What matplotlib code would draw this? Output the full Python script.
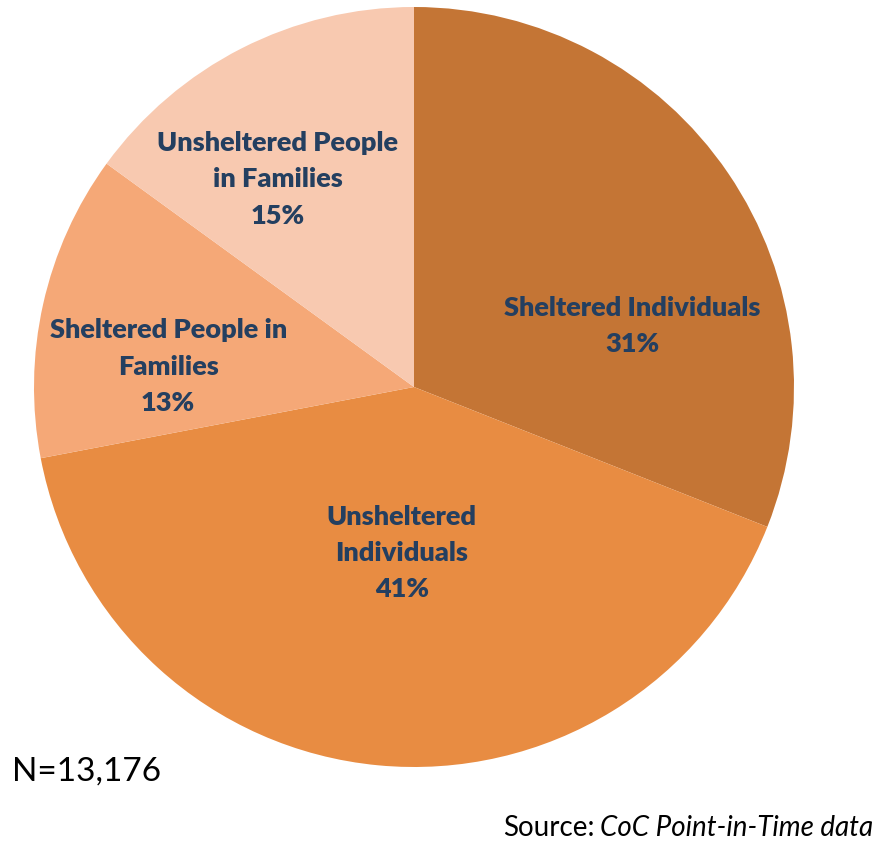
import matplotlib.pyplot as plt

# Homeless population breakdown (share of total)
categories = ["Sheltered Individuals", "Unsheltered Individuals",
              "Sheltered People in Families", "Unsheltered People in Families"]
shares = [31, 41, 13, 15]
label_lines = ["Sheltered Individuals", "Unsheltered\nIndividuals",
               "Sheltered People in\nFamilies", "Unsheltered People\nin Families"]
total_n = "13,176"
source_text = "CoC Point-in-Time data"

colors = ["#C47535", "#E88C42", "#F5A877", "#F8C9B0"]
text_color = "#243F60"

W, H = 877, 842
fig = plt.figure(figsize=(W / 100, H / 100), dpi=100)
plt.rcParams["font.family"] = ["Lato", "DejaVu Sans"]

# pie centre (414, 387) px, radius 380 px
cx, cy, r = 414, 387, 380
ax = fig.add_axes([(cx - r) / W, (H - cy - r) / H, 2 * r / W, 2 * r / H])
ax.pie(shares, colors=colors, startangle=90, counterclock=False,
       radius=1, wedgeprops=dict(linewidth=0))
ax.set_xlim(-1, 1)
ax.set_ylim(-1, 1)
ax.set_aspect("equal")
ax.axis("off")

# label centres in pie coordinates
label_pos = [(0.574, 0.161), (-0.032, -0.437), (-0.647, 0.053), (-0.358, 0.547)]
for txt, pct, (x, y) in zip(label_lines, shares, label_pos):
    ax.text(x, y, f"{txt}\n{pct}%", ha="center", va="center",
            fontsize=19.5, fontweight="heavy", color=text_color,
            linespacing=1.62)

fig.text(12 / W, 1 - 772 / H, f"N={total_n}", ha="left", va="center",
         fontsize=24, color="black")

renderer = fig.canvas.get_renderer()
src = fig.text(873 / W, 1 - 828 / H, source_text, ha="right", va="center",
               fontsize=20, style="italic", color="black")
bb = src.get_window_extent(renderer)
fig.text((bb.x0 - 5) / W, 1 - 828 / H, "Source:", ha="right", va="center",
         fontsize=20, color="black")

fig.savefig("out.png", dpi=100)
